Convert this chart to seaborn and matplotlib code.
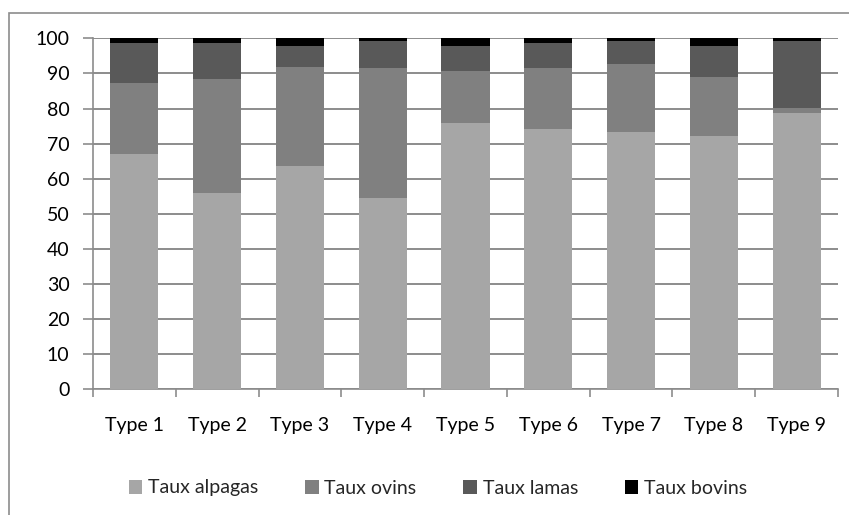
import numpy as np
import pandas as pd
import matplotlib
matplotlib.use("Agg")
import matplotlib.pyplot as plt
from matplotlib.patches import Rectangle, Patch
import seaborn as sns

# Data (percent of herd)
types = ["Type 1", "Type 2", "Type 3", "Type 4", "Type 5", "Type 6", "Type 7", "Type 8", "Type 9"]
alpagas = [67.1, 55.8, 63.7, 54.4, 75.9, 74.3, 73.4, 72.3, 78.8]
ovins = [20.2, 32.5, 28.0, 37.0, 14.9, 17.3, 19.4, 16.6, 1.4]
lamas = [11.4, 10.4, 6.1, 7.9, 7.0, 7.1, 6.5, 8.9, 19.1]
bovins = [1.3, 1.3, 2.2, 0.7, 2.2, 1.3, 0.7, 2.2, 0.7]

series = ["Taux alpagas", "Taux ovins", "Taux lamas", "Taux bovins"]
colors = ["#a6a6a6", "#808080", "#595959", "#000000"]

sns.set_theme(style="white")
plt.rcParams["font.family"] = ["Lato", "DejaVu Sans"]

df = pd.DataFrame({"type": types, series[0]: alpagas, series[1]: ovins,
                   series[2]: lamas, series[3]: bovins})
# cumulative heights, drawn from the top series down so they stack
cum = df[series].cumsum(axis=1)

W, H = 849, 515
fig = plt.figure(figsize=(W / 100, H / 100), dpi=100)
ax = fig.add_axes([93 / W, 1 - 389.3 / H, (838 - 93) / W, (389.3 - 38.3) / H])

grid_c = "#8c8c8c"
fs = 14
for s, c in zip(series[::-1], colors[::-1]):
    sns.barplot(data=cum.assign(type=df["type"]), x="type", y=s, color=c,
                width=0.58, saturation=1, linewidth=0, ax=ax, zorder=3)

ax.set_ylim(0, 100)
ax.set_xlim(-0.5, len(types) - 0.5)
ax.set_yticks(np.arange(0, 101, 10))
ax.yaxis.grid(True, color=grid_c, linewidth=1.4)
ax.set_axisbelow(True)
ax.set_xlabel("")
ax.set_ylabel("")

for side in ["top", "right"]:
    ax.spines[side].set_visible(False)
for side in ["left", "bottom"]:
    ax.spines[side].set_color(grid_c)
    ax.spines[side].set_linewidth(1.2)

ax.tick_params(axis="y", direction="out", length=7, color=grid_c, width=1.2,
               labelsize=fs, labelcolor="black", pad=10, left=True)
ax.tick_params(axis="x", which="major", length=0, labelsize=fs,
               labelcolor="black", pad=20)
ax.set_xticks(np.arange(-0.5, len(types), 1), minor=True)
ax.tick_params(axis="x", which="minor", direction="out", length=6,
               color=grid_c, width=1.2, bottom=True)

handles = [Patch(facecolor=c, edgecolor="none", label=s) for s, c in zip(series, colors)]
fig.legend(handles=handles, loc="center", bbox_to_anchor=(438 / W, 1 - 488 / H),
           ncol=4, frameon=False, fontsize=fs, handlelength=0.7,
           handleheight=0.7, handletextpad=0.3, columnspacing=2.4)

# outer chart frame (left and top edges visible)
fig.patches.append(Rectangle((9 / W, -0.1), 1.2, 0.1 + (H - 13) / H,
                             transform=fig.transFigure, fill=False,
                             edgecolor=grid_c, linewidth=1.2))

fig.savefig("out.png", dpi=100)
